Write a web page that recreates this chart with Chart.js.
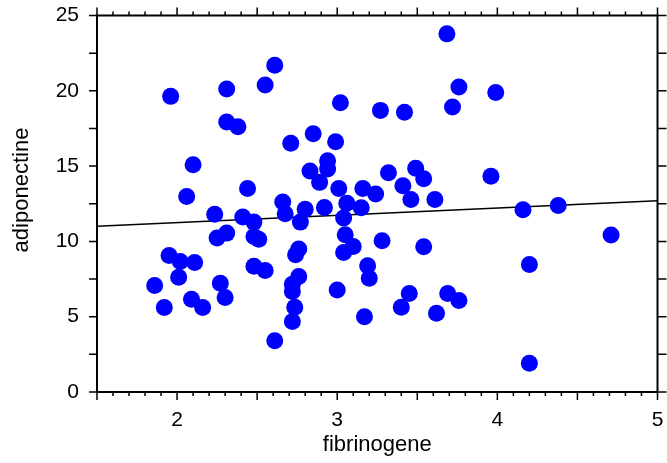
<!DOCTYPE html>
<html>
<head>
<meta charset="utf-8">
<script src="https://cdn.jsdelivr.net/npm/chart.js@4"></script>
<style>
  html, body { margin: 0; padding: 0; background: #fff; }
</style>
</head>
<body>
<canvas id="myChart" width="667" height="463"></canvas>
<script>
// values
const fibrinogene = [
  1.96, 2.31, 2.55, 2.61, 3.02, 3.27, 2.31, 2.38, 2.85, 2.71,
  2.99, 2.10, 2.94, 2.94, 2.83, 2.89, 2.44, 3.01, 3.16, 3.24,
  2.06, 3.685, 3.76, 3.99, 3.72, 3.42, 3.32, 3.49, 3.54, 3.41,
  3.96, 3.46, 3.61, 4.16, 4.38, 4.71, 3.28, 3.54, 4.20, 3.45,
  3.40, 3.69, 3.76, 3.62, 4.20, 2.66, 2.675, 2.80, 2.77, 2.92,
  3.06, 3.15, 3.04, 2.235, 2.41, 2.48, 2.25, 2.31, 2.48, 2.51,
  3.05, 3.04, 3.10, 2.76, 2.74, 1.95, 2.02, 2.11, 2.01, 2.48,
  2.55, 2.76, 2.72, 2.72, 2.735, 2.72, 2.61, 1.86, 1.92, 2.09,
  2.16, 2.27, 2.30, 3.00, 3.19, 3.20, 3.17
];
const adiponectine = [
  19.63, 20.12, 20.39, 21.70, 19.21, 18.70, 17.93, 17.62, 17.15, 16.51,
  16.62, 15.09, 15.36, 14.81, 14.67, 13.92, 13.52, 13.52, 13.52, 13.15,
  12.98, 23.78, 20.25, 19.88, 18.93, 18.57, 14.56, 14.85, 14.16, 13.70,
  14.32, 12.78, 12.78, 12.10, 12.39, 10.42, 10.04, 9.64, 8.47, 6.54,
  5.63, 6.54, 6.07, 5.23, 1.91, 12.61, 11.83, 12.14, 11.28, 12.25,
  12.54, 12.23, 11.55, 11.81, 11.62, 11.28, 10.22, 10.55, 10.33, 10.15,
  10.44, 9.26, 9.66, 9.49, 9.11, 9.07, 8.67, 8.60, 7.62, 8.35,
  8.07, 7.67, 7.16, 6.67, 5.63, 4.68, 3.41, 7.07, 5.61, 6.16,
  5.61, 7.22, 6.27, 6.78, 8.38, 7.56, 4.99
];
// fitted line, ends of the x range
const fitX = [1.5, 5];
const fitY = [11.0, 12.7];

const xLabels = [2, 3, 4, 5];
const yLabels = [0, 5, 10, 15, 20, 25];

const points = fibrinogene.map((v, i) => ({x: v, y: adiponectine[i]}));
const fit = fitX.map((v, i) => ({x: v, y: fitY[i]}));

const FONT = 'Arial, "Liberation Sans", sans-serif';
Chart.defaults.font.family = FONT;
Chart.defaults.color = '#000';

// box, tick marks and the y title, old stats-package style
const frame = {
  id: 'frame',
  afterDraw(chart) {
    const c = chart.ctx, a = chart.chartArea;
    const sx = chart.scales.x, sy = chart.scales.y;
    c.save();
    c.strokeStyle = '#000';
    c.lineWidth = 1.5;
    c.beginPath();
    for (let i = 15; i <= 50; i++) {
      const px = sx.getPixelForValue(i / 10);
      const len = i % 5 === 0 ? 8 : 4;
      c.moveTo(px, a.bottom); c.lineTo(px, a.bottom + len);
      c.moveTo(px, a.top); c.lineTo(px, a.top - len);
    }
    for (let i = 0; i <= 10; i++) {
      const py = sy.getPixelForValue(i * 2.5);
      c.moveTo(a.left, py); c.lineTo(a.left - 8, py);
      c.moveTo(a.right, py); c.lineTo(a.right + 9, py);
    }
    c.stroke();
    c.lineWidth = 2;
    c.strokeRect(a.left, a.top, a.right - a.left, a.bottom - a.top);

    c.translate(22, 190);
    c.rotate(-Math.PI / 2);
    c.font = '22px ' + FONT;
    c.fillStyle = '#000';
    c.textAlign = 'center';
    c.textBaseline = 'middle';
    c.fillText('adiponectine', 0, 0);
    c.restore();
  }
};

new Chart(document.getElementById('myChart'), {
  type: 'scatter',
  data: {
    datasets: [{
      data: points,
      backgroundColor: 'rgb(0, 0, 255)',
      borderWidth: 0,
      pointRadius: 8.5,
      pointHoverRadius: 8.5,
      order: 1
    }, {
      type: 'line',
      data: fit,
      borderColor: '#000',
      borderWidth: 1.5,
      pointRadius: 0,
      fill: false,
      order: 2
    }]
  },
  plugins: [frame],
  options: {
    responsive: false,
    animation: false,
    layout: { padding: { left: 0, top: 15.5, right: 9.5, bottom: 0 } },
    plugins: { legend: { display: false }, tooltip: { enabled: false } },
    scales: {
      x: {
        type: 'linear',
        min: 1.5,
        max: 5,
        afterBuildTicks: s => { s.ticks = xLabels.map(v => ({value: v})); },
        afterFit: s => { s.height = 71; s.paddingLeft = 0; s.paddingRight = 0; },
        grid: { display: false, drawTicks: false },
        border: { display: false },
        ticks: { padding: 16, font: { size: 21 }, maxRotation: 0 },
        title: { display: true, text: 'fibrinogene', font: { size: 22 }, padding: { top: 0, bottom: 5 } }
      },
      y: {
        min: 0,
        max: 25,
        afterBuildTicks: s => { s.ticks = yLabels.map(v => ({value: v})); },
        afterFit: s => { s.width = 97; s.paddingTop = 0; s.paddingBottom = 0; },
        grid: { display: false, drawTicks: false },
        border: { display: false },
        ticks: { padding: 18, font: { size: 21 } }
      }
    }
  }
});
</script>
</body>
</html>
